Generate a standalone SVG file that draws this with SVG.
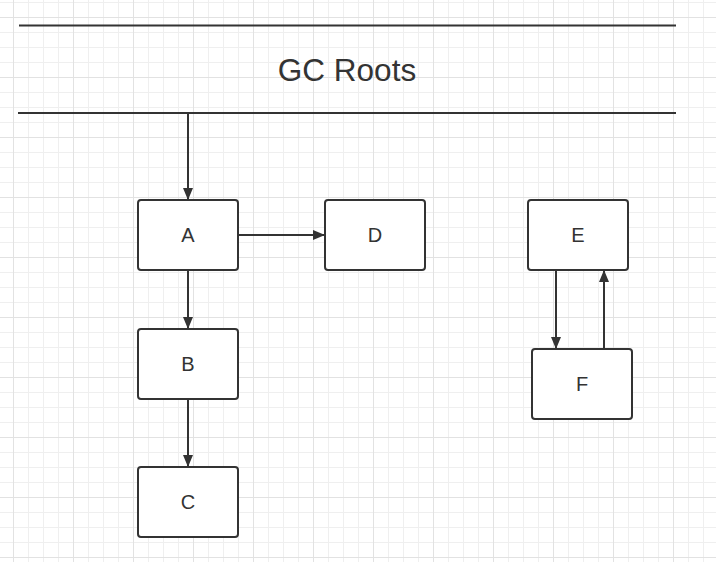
<svg xmlns="http://www.w3.org/2000/svg" width="716" height="562" viewBox="0 0 716 562">
<defs>
<pattern id="minor" x="13" y="2" width="15" height="15" patternUnits="userSpaceOnUse">
<path d="M0.5 0V15M0 0.5H15" stroke="#efefef" stroke-width="1" fill="none"/>
</pattern>
<pattern id="major" x="13" y="17" width="60" height="60" patternUnits="userSpaceOnUse">
<path d="M0.5 0V60M0 0.5H60" stroke="#e2e2e2" stroke-width="1" fill="none"/>
</pattern>
<marker id="arr" viewBox="0 0 12 10" refX="12" refY="5" markerWidth="12" markerHeight="10" markerUnits="userSpaceOnUse" orient="auto">
<path d="M0 0L12 5L0 10Z" fill="#333"/>
</marker>
</defs>
<style>
.box{fill:#fff;stroke:#333;stroke-width:2}
.lbl{font-family:"Liberation Sans",Arial,sans-serif;font-size:20px;fill:#333;text-anchor:middle;dominant-baseline:central}
.con{stroke:#333;stroke-width:2;fill:none;marker-end:url(#arr)}
.rule{stroke:#333;stroke-width:2}
</style>
<rect width="716" height="562" fill="#fff"/>
<rect width="716" height="562" fill="url(#minor)"/>
<rect width="716" height="562" fill="url(#major)"/>
<g id="gcroots">
<line class="rule" x1="19" y1="25.5" x2="676" y2="25.5"/>
<line class="rule" x1="18" y1="113" x2="676" y2="113"/>
<text class="lbl" x="347" y="70" style="font-size:31.5px">GC Roots</text>
</g>
<g id="connectors">
<line class="con" x1="188" y1="113" x2="188" y2="200"/>
<line class="con" x1="239" y1="235" x2="325" y2="235"/>
<line class="con" x1="188" y1="270" x2="188" y2="329"/>
<line class="con" x1="188" y1="399" x2="188" y2="467"/>
<line class="con" x1="556" y1="270" x2="556" y2="349"/>
<line class="con" x1="604" y1="349" x2="604" y2="270"/>
</g>
<g id="A"><rect class="box" x="138" y="200" width="100" height="70" rx="3"/><text class="lbl" x="188" y="235">A</text></g>
<g id="D"><rect class="box" x="325" y="200" width="100" height="70" rx="3"/><text class="lbl" x="375" y="235">D</text></g>
<g id="B"><rect class="box" x="138" y="329" width="100" height="70" rx="3"/><text class="lbl" x="188" y="364">B</text></g>
<g id="C"><rect class="box" x="138" y="467" width="100" height="70" rx="3"/><text class="lbl" x="188" y="502">C</text></g>
<g id="E"><rect class="box" x="528" y="200" width="100" height="70" rx="3"/><text class="lbl" x="578" y="235">E</text></g>
<g id="F"><rect class="box" x="532" y="349" width="100" height="70" rx="3"/><text class="lbl" x="582" y="384">F</text></g>
</svg>
